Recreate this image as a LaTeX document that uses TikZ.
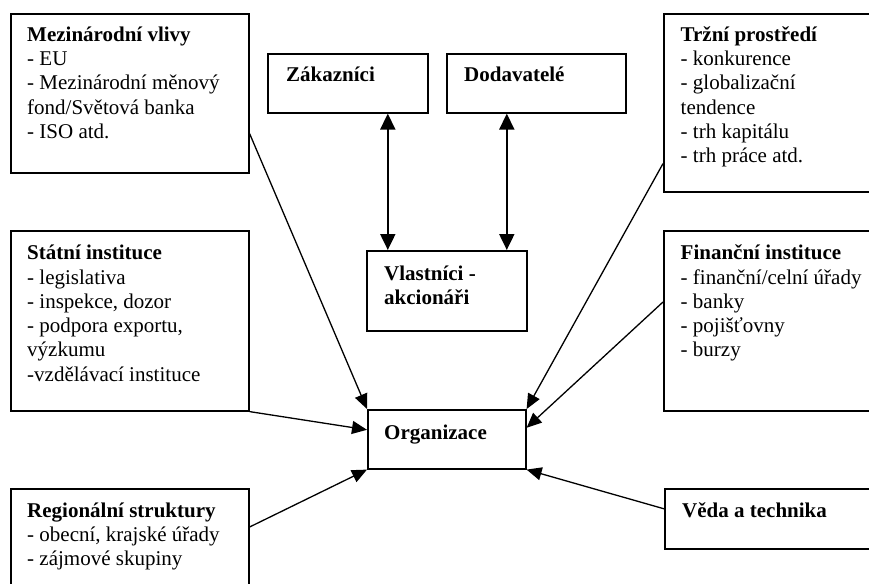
\documentclass[tikz,border=0pt]{standalone}
\usepackage{fontspec}
\setmainfont{Liberation Serif}
\usetikzlibrary{arrows.meta,calc}
\tikzset{
  box/.style={draw, line width=1.6pt, rectangle, inner sep=0pt, anchor=north west},
  txt/.style={anchor=north west, inner sep=0pt, align=left,
    font=\fontsize{21}{24.3}\selectfont},
  conn/.style={line width=1.3pt, -{Triangle[length=15pt,width=13pt]}},
  dbl/.style={line width=2pt, {Triangle[length=16pt,width=15pt]}-{Triangle[length=16pt,width=15pt]}}
}
\begin{document}
\begin{tikzpicture}[x=1pt,y=-1pt]
\clip (0,0) rectangle (869,583);
\fill[white] (0,0) rectangle (869,583);
% boxes
\node[box, minimum width=238pt, minimum height=159pt] (mv) at (10,13) {};
\node[box, minimum width=160pt, minimum height=59pt] (zak) at (267,53) {};
\node[box, minimum width=179pt, minimum height=59pt] (dod) at (446,53) {};
\node[box, minimum width=160pt, minimum height=80pt] (vla) at (366,250) {};
\node[box, minimum width=220pt, minimum height=178pt] (trz) at (663,13) {};
\node[box, minimum width=238pt, minimum height=180pt] (sta) at (10,230) {};
\node[box, minimum width=220pt, minimum height=180pt] (fin) at (663,230) {};
\node[box, minimum width=238pt, minimum height=120pt] (reg) at (10,488) {};
\node[box, minimum width=158pt, minimum height=59pt] (org) at (367,409) {};
\node[box, minimum width=220pt, minimum height=60pt] (ved) at (664,488) {};
% texts (first baseline = top + 17 + shift)
\node[txt] at ([shift={(17,11)}]mv.north west) {\strut\textbf{Mezinárodní vlivy}\\- EU\\- Mezinárodní měnový\\fond/Světová banka\\- ISO atd.};
\node[txt] at ([shift={(19,11.5)}]zak.north west) {\strut\textbf{Zákazníci}};
\node[txt] at ([shift={(18,11.5)}]dod.north west) {\strut\textbf{Dodavatelé}};
\node[txt] at ([shift={(18,13)}]vla.north west) {\strut\textbf{Vlastníci -}\\\textbf{akcionáři}};
\node[txt] at ([shift={(17.5,11)}]trz.north west) {\strut\textbf{Tržní prostředí}\\- konkurence\\- globalizační\\tendence\\- trh kapitálu\\- trh práce atd.};
\node[txt] at ([shift={(17,12.5)}]sta.north west) {\strut\textbf{Státní instituce}\\- legislativa\\- inspekce, dozor\\- podpora exportu,\\výzkumu\\-vzdělávací instituce};
\node[txt] at ([shift={(17.5,12.5)}]fin.north west) {\strut\textbf{Finanční instituce}\\- finanční/celní úřady\\- banky\\- pojišťovny\\- burzy};
\node[txt] at ([shift={(17,12)}]reg.north west) {\strut\textbf{Regionální struktury}\\- obecní, krajské úřady\\- zájmové skupiny};
\node[txt] at ([shift={(17,13)}]org.north west) {\strut\textbf{Organizace}};
\node[txt] at ([shift={(18,12.5)}]ved.north west) {\strut\textbf{Věda a technika}};
% double arrows
\draw[dbl] ([xshift=40pt]zak.south) -- ([xshift=-59pt]vla.north);
\draw[dbl] ([xshift=-29.5pt]dod.south) -- ([xshift=60pt]vla.north);
% connectors to Organizace
\draw[conn] ([yshift=40pt]mv.south east) -- (org.north west);
\draw[conn] (sta.south east) -- ([yshift=9.5pt]org.west);
\draw[conn] ([yshift=-39pt]reg.north east) -- (org.south west);
\draw[conn] ([yshift=29pt]trz.south west) -- (org.north east);
\draw[conn] ([yshift=-72pt]fin.north west) -- ([yshift=11.5pt]org.east);
\draw[conn] ([yshift=10pt]ved.west) -- (org.south east);
\end{tikzpicture}
\end{document}
